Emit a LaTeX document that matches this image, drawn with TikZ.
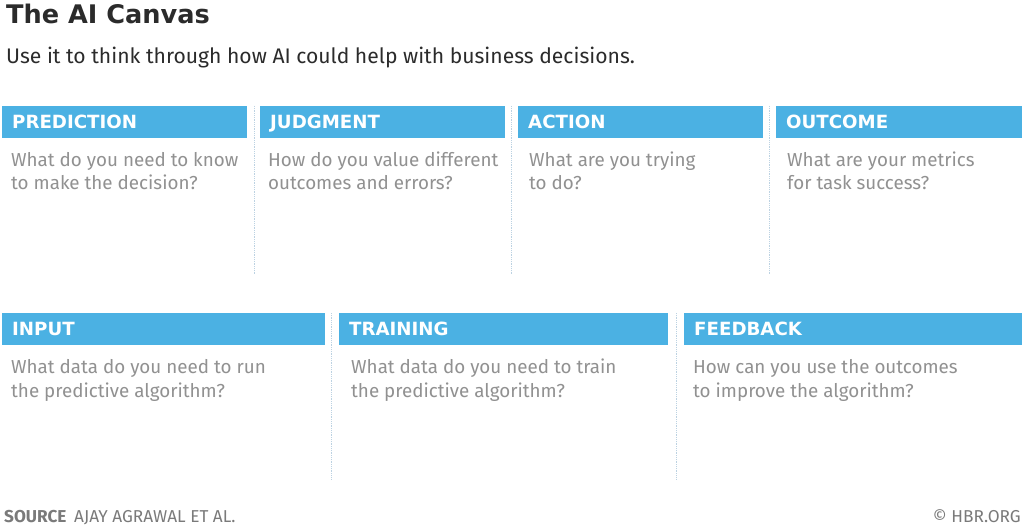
\documentclass[tikz,border=0pt]{standalone}
\usepackage{fontspec}
\setmainfont{Fira Sans}
\newfontfamily\widefont{DejaVu Sans}
\definecolor{hbrblue}{HTML}{4BB1E3}
\definecolor{titlecol}{HTML}{2B2B2B}
\definecolor{bodycol}{HTML}{919191}
\definecolor{footcol}{HTML}{7A7A7A}
\definecolor{divcol}{HTML}{BCD2E2}
\begin{document}
\begin{tikzpicture}[x=1pt,y=-1pt,
  titletext/.style={anchor=base west,inner sep=0pt,text=titlecol,font=\widefont\fontsize{25.6}{30}\selectfont\bfseries},
  subtext/.style={anchor=base west,inner sep=0pt,text=titlecol,font=\fontsize{21.1}{24}\selectfont},
  headbar/.style={anchor=north west,fill=hbrblue,inner xsep=10pt,inner ysep=0pt,minimum height=32pt,
    text=white,font=\widefont\fontsize{18.2}{22}\selectfont\bfseries,text height=13pt,text depth=0pt,align=left},
  bodytext/.style={anchor=base west,inner sep=0pt,text=bodycol,align=left,font=\fontsize{18.8}{23.5}\selectfont},
  divider/.style={draw=divcol,line width=0.8pt,densely dotted},
  foottext/.style={anchor=base west,inner sep=0pt,text=footcol,font=\fontsize{17.2}{20}\selectfont}]
\useasboundingbox[fill=white] (0,0) rectangle (1024,526);

\node[titletext] (title) at (6,24) {The AI Canvas};
\node[subtext] (sub) at (6,64) {Use it to think through how AI could help with business decisions.};

% top row
\node[headbar,text width=225pt] (hpred) at (2,106) {PREDICTION};
\node[headbar,text width=225pt] (hjudg) at (260,106) {JUDGMENT};
\node[headbar,text width=225pt] (hact) at (518,106) {ACTION};
\node[headbar,text width=226pt] (hout) at (776,106) {OUTCOME};

\node[bodytext] (bpred) at (11,190) {What do you need to know\\to make the decision?};
\node[bodytext] (bjudg) at (268,190) {How do you value different\\outcomes and errors?};
\node[bodytext] (bact) at (529,190) {What are you trying\\to do?};
\node[bodytext] (bout) at (787,190) {What are your metrics\\for task success?};

\coordinate (d1t) at (254,106); \coordinate (d1b) at (254,274);
\coordinate (d2t) at (511,106); \coordinate (d2b) at (511,274);
\coordinate (d3t) at (769,106); \coordinate (d3b) at (769,274);
\draw[divider] (d1t) -- (d1b);
\draw[divider] (d2t) -- (d2b);
\draw[divider] (d3t) -- (d3b);

% bottom row
\node[headbar,text width=303pt] (hinp) at (2,313) {INPUT};
\node[headbar,text width=309pt] (htrain) at (339,313) {TRAINING};
\node[headbar,text width=318pt] (hfeed) at (684,313) {FEEDBACK};

\node[bodytext] (binp) at (11,397) {What data do you need to run\\the predictive algorithm?};
\node[bodytext] (btrain) at (351,397) {What data do you need to train\\the predictive algorithm?};
\node[bodytext] (bfeed) at (693,397) {How can you use the outcomes\\to improve the algorithm?};

\coordinate (d4t) at (331,313); \coordinate (d4b) at (331,479);
\coordinate (d5t) at (676,313); \coordinate (d5b) at (676,479);
\draw[divider] (d4t) -- (d4b);
\draw[divider] (d5t) -- (d5b);

% footer
\node[foottext,font=\fontsize{17.2}{20}\selectfont\bfseries] (src) at (4,522) {SOURCE};
\node[foottext] (auth) at (74,522) {AJAY AGRAWAL ET AL.};
\node[foottext,anchor=base east] (copy) at (1021,522) {© HBR.ORG};
\end{tikzpicture}
\end{document}
